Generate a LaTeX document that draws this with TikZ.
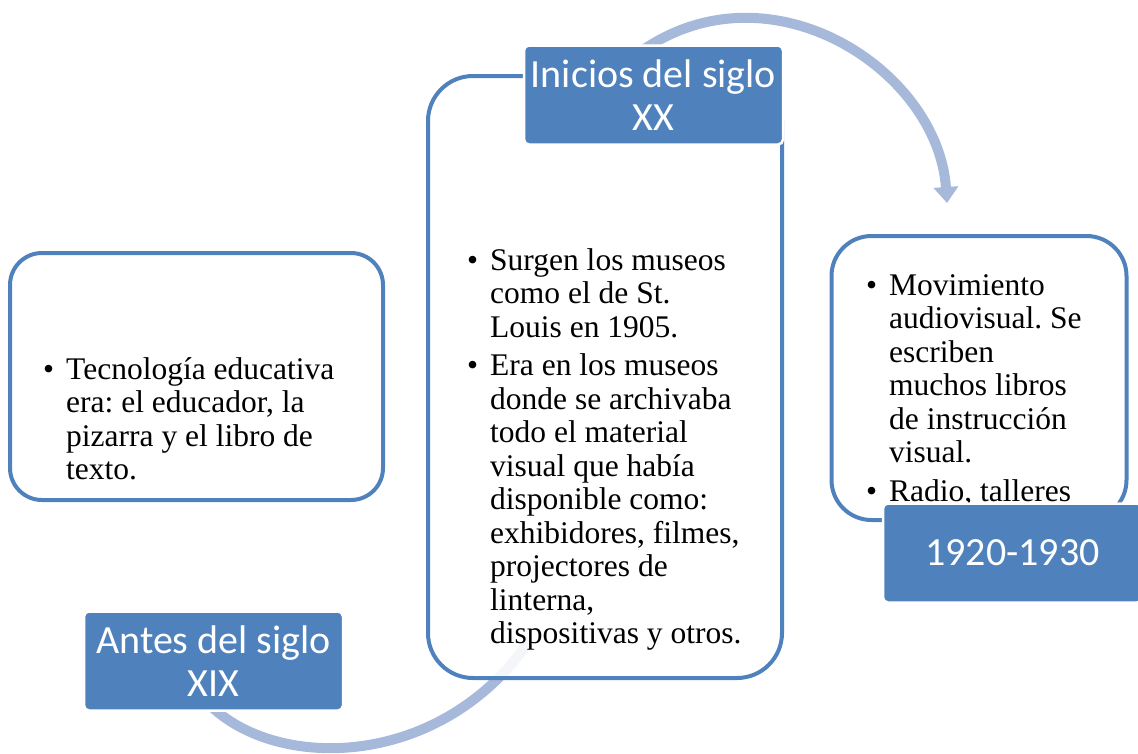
\documentclass[tikz,border=0pt]{standalone}
\usepackage{fontspec}
\setmainfont{Liberation Serif}
\newfontfamily\calibri{Carlito}
\usetikzlibrary{arrows.meta,positioning}
\frenchspacing

\definecolor{azulborde}{RGB}{79,129,189}
\definecolor{azulflecha}{RGB}{167,185,218}

\tikzset{
  caja/.style={rectangle,draw=azulborde,line width=4pt,fill=white,fill opacity=0.88,draw opacity=1,inner sep=0pt},
  etiqueta/.style={rectangle,fill=azulborde,draw=white,line width=2.5pt,rounded corners=5pt,text=white,
    font=\calibri\fontsize{40}{43}\selectfont,align=center,inner sep=0pt,minimum width=259pt,minimum height=99pt},
  texto/.style={anchor=base west,inner sep=0pt,font=\fontsize{31.5}{33.5}\selectfont},
  flecha/.style={draw=azulflecha,line width=10pt},
}

\newcommand{\vineta}{\textbullet}

\begin{document}
\begin{tikzpicture}[x=1pt,y=-1pt]
    \clip (0,0) rectangle (1138,753) ;

    % flechas del ciclo
    \coordinate (arcoIni) at (640,52) ;
    \coordinate (arcoFin) at (947,203) ;
    \coordinate (curvaIni) at (205,700) ;
    \coordinate (curvaFin) at (530,640) ;
    \draw[flecha,-{Triangle[width=24pt,length=16pt]}] (arcoIni) .. controls (770,-40) and (938,70) .. (arcoFin) ;
    \draw[flecha] (curvaIni) .. controls (270,772) and (440,772) .. (curvaFin) ;

    % cajas
    \node[caja,rounded corners=32pt,minimum width=373pt,minimum height=247pt] (cajaA) at (196.5,376.5) {} ;
    \node[caja,rounded corners=45pt,minimum width=354pt,minimum height=602pt] (cajaB) at (605,377) {} ;
    \node[caja,rounded corners=40pt,minimum width=295pt,minimum height=284pt] (cajaC) at (979,378) {} ;

    % textos
    \node[texto] (txtA) at (43,379) {\begin{tabular}[t]{@{}l@{\hspace{12pt}}l@{}}
        \vineta & Tecnología educativa\\
                & era: el educador, la\\
                & pizarra y el libro de\\
                & texto.
      \end{tabular}} ;
    \node[texto] (txtB) at (467,270) {\begin{tabular}[t]{@{}l@{\hspace{12pt}}l@{}}
        \vineta & Surgen los museos\\
                & como el de St.\\
                & Louis en 1905.\\[5pt]
        \vineta & Era en los museos\\
                & donde se archivaba\\
                & todo el material\\
                & visual que había\\
                & disponible como:\\
                & exhibidores, filmes,\\
                & projectores de\\
                & linterna,\\
                & dispositivas y otros.
      \end{tabular}} ;
    \node[texto] (txtC) at (866,295) {\begin{tabular}[t]{@{}l@{\hspace{12pt}}l@{}}
        \vineta & Movimiento\\
                & audiovisual. Se\\
                & escriben\\
                & muchos libros\\
                & de instrucción\\
                & visual.\\[5pt]
        \vineta & Radio, talleres
      \end{tabular}} ;

    % etiquetas
    \node[etiqueta] (antes) at (213.5,661) {Antes del siglo\\XIX} ;
    \node[etiqueta] (inicios) at (653.5,95) {Inicios del siglo\\XX} ;
    \node[etiqueta] (decada) at (1012.5,553) {1920-1930} ;
\end{tikzpicture}
\end{document}
